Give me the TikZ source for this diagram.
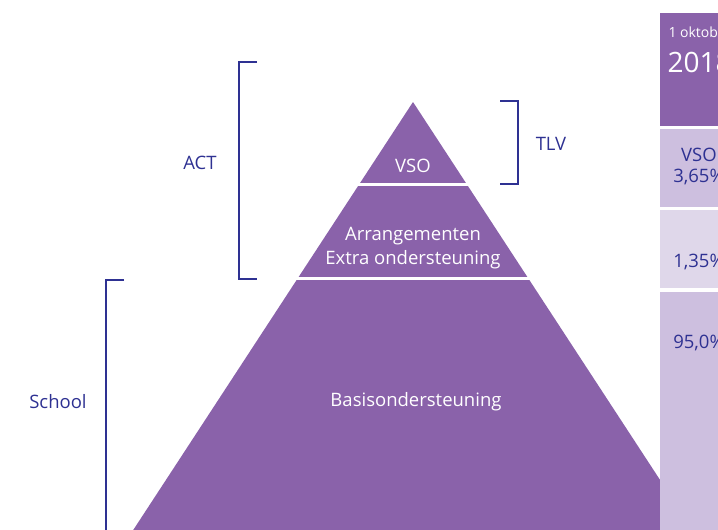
\documentclass[tikz,border=0pt]{standalone}
\usepackage{fontspec}
\setmainfont{Open Sans}
\usetikzlibrary{positioning, calc}
\definecolor{paars}{RGB}{138,98,170}
\definecolor{lila}{RGB}{205,191,223}
\definecolor{lichtlila}{RGB}{223,215,234}
\definecolor{navy}{RGB}{46,49,146}

\begin{document}
\begin{tikzpicture}[x=1pt, y=-1pt,
    lbl/.style={text=navy, font=\fontsize{18.5}{21}\selectfont},
    tier/.style={text=white, align=center, font=\fontsize{18.5}{24}\selectfont},
    pct/.style={text=navy, align=center, font=\fontsize{18.5}{21}\selectfont},
    bracket/.style={draw=navy, line width=2.6pt}]
    \useasboundingbox (0,0) rectangle (718,530);
    \clip (0,0) rectangle (718,530);

    % pyramid
    \coordinate (apex) at (413,102);
    \coordinate (bl) at (128,538);
    \coordinate (br) at (698,538);
    \fill[paars] (apex) -- (br) -- (bl) -- cycle;
    \draw[white, line width=3pt] (355,184) -- (471,184);
    \draw[white, line width=3pt] (292,278) -- (534,278);

    \node[tier] (vso) at (413,166) {VSO}; % top
    \node[tier] (arr) at (413,248) {Arrangementen\\Extra ondersteuning}; % middle
    \node[tier] (basis) at (416,402) {Basisondersteuning}; % bottom

    % brackets
    \coordinate (act1) at (257,62);
    \coordinate (act2) at (257,279);
    \coordinate (tlv1) at (500,101);
    \coordinate (tlv2) at (500,184);
    \coordinate (sch1) at (124,280);
    \coordinate (sch2) at (106,540);
    \draw[bracket] (act1) -- ++(-18,0) |- (act2);
    \draw[bracket] (tlv1) -- ++(18,0) |- (tlv2);
    \draw[bracket] (sch1) -- ++(-18,0) -- (sch2);

    \node[lbl] (act) at (200,163) {ACT};
    \node[lbl] (tlv) at (551,144) {TLV};
    \node[lbl] (school) at (58,402) {School};

    % column
    \fill[paars] (660,13) rectangle (760,126);
    \fill[lila] (660,129) rectangle (760,207);
    \fill[lichtlila] (660,210) rectangle (760,288);
    \fill[lila] (660,292) rectangle (760,540);

    \node[anchor=west, text=white, font=\fontsize{14}{16}\selectfont] (datum) at (665,32) {1 oktober};
    \node[anchor=west, text=white, font=\fontsize{28}{32}\selectfont] (jaar) at (664,62) {2018};
    \node[pct] (vsopct) at (699,166) {VSO\\3,65\%};
    \node[pct] (arrpct) at (699,262) {1,35\%};
    \node[pct] (basispct) at (699,343) {95,0\%};
\end{tikzpicture}
\end{document}
